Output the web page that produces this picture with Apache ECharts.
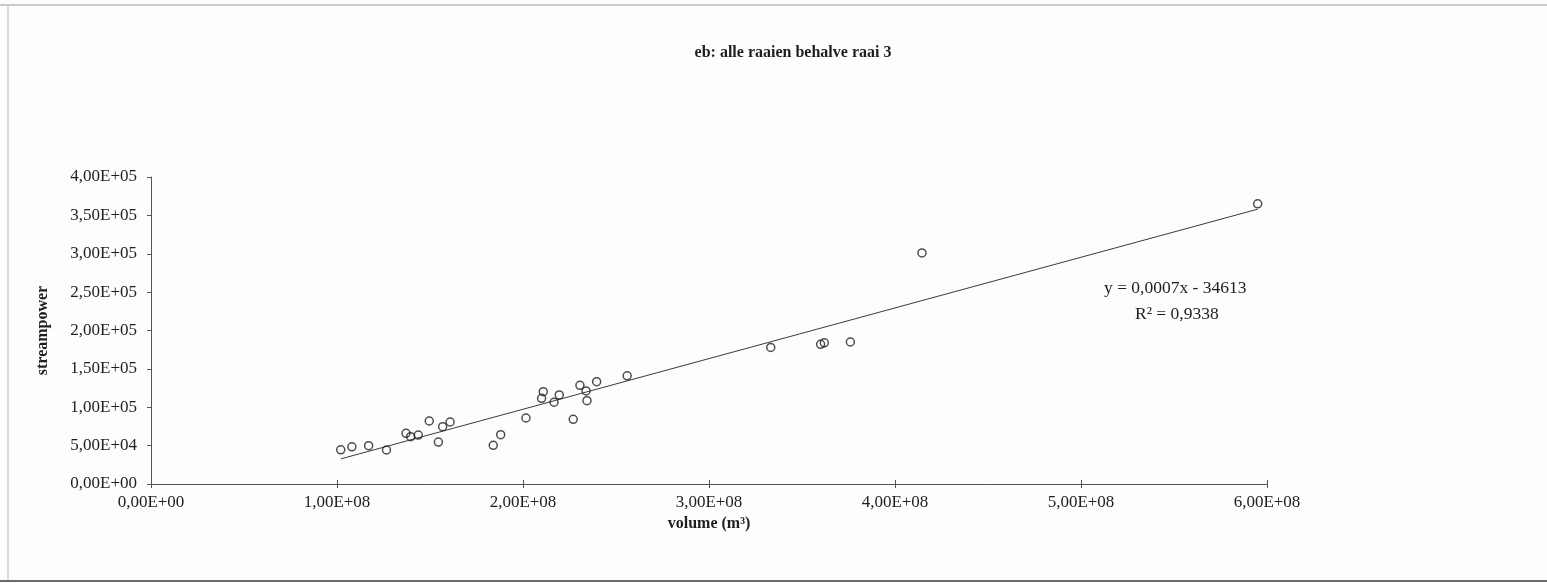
<!DOCTYPE html>
<html>
<head>
<meta charset="utf-8">
<script src="https://cdn.jsdelivr.net/npm/echarts@6/dist/echarts.min.js"></script>
<style>
  html, body { margin: 0; padding: 0; background: #fdfdfd; }
  #chart { width: 1547px; height: 583px; }
</style>
</head>
<body>
<div id="chart"></div>
<script>
// Ebb measurements: volume (m³) against stream power, all transects except transect 3
const volume = [
  1.02e8, 1.08e8, 1.17e8, 1.266e8, 1.371e8, 1.396e8, 1.437e8, 1.496e8, 1.545e8, 1.568e8,
  1.608e8, 1.840e8, 1.880e8, 2.016e8, 2.100e8, 2.109e8, 2.167e8, 2.195e8, 2.270e8, 2.306e8,
  2.339e8, 2.344e8, 2.396e8, 2.560e8, 3.332e8, 3.600e8, 3.620e8, 3.760e8, 4.145e8, 5.950e8
];
const streampower = [
  44500, 48500, 50000, 44300, 66100, 61600, 63800, 82100, 54700, 74700,
  80800, 50400, 64200, 86000, 111700, 120300, 106500, 116000, 84300, 128600,
  121200, 108500, 133300, 141000, 178000, 182000, 184000, 185000, 301000, 365000
];

// Linear trendline y = slope * x + intercept, and its coefficient of determination
const trendSlope = 0.00066;
const trendIntercept = -34613;
const rSquared = 0.9338;

// Axis ranges and tick steps
const xTicks = { min: 0, max: 6e8, step: 1e8 };
const yTicks = { min: 0, max: 4e5, step: 5e4 };

const titleText = 'eb: alle raaien behalve raai 3';
const xTitle = 'volume (m³)';
const yTitle = 'streampower';

// "4,00E+05" style: two decimals, comma separator, signed two-digit exponent
function sci(v) {
  const [mant, exp] = v.toExponential(2).split('e');
  const e = parseInt(exp, 10);
  const sign = e < 0 ? '-' : '+';
  const ee = String(Math.abs(e)).padStart(2, '0');
  return mant.replace('.', ',') + 'E' + sign + ee;
}

const points = volume.map((x, i) => [x, streampower[i]]);
const xLo = Math.min(...volume);
const xHi = Math.max(...volume);
const trendLine = [xLo, xHi].map(x => [x, trendSlope * x + trendIntercept]);

const eqText = 'y = ' + trendSlope.toFixed(4).replace('.', ',') + 'x - ' + Math.abs(trendIntercept);
const r2Text = 'R² = ' + rSquared.toFixed(4).replace('.', ',');

const serif = '"Liberation Serif", "Times New Roman", serif';
const ink = '#1e1e1e';

const chart = echarts.init(document.getElementById('chart'), null, { renderer: 'canvas' });

chart.setOption({
  backgroundColor: '#fdfdfd',
  animation: false,
  title: {
    text: titleText,
    left: 788,
    top: 40,
    textAlign: 'center',
    textStyle: { fontFamily: serif, fontSize: 16, fontWeight: 'bold', color: ink }
  },
  grid: { left: 151, right: 280, top: 177, bottom: 99, containLabel: false },
  xAxis: [
    {
      type: 'value',
      min: xTicks.min, max: xTicks.max, interval: xTicks.step,
      name: xTitle,
      nameLocation: 'middle',
      nameGap: 32,
      nameTextStyle: { fontFamily: serif, fontSize: 16, fontWeight: 'bold', color: ink },
      axisLine: { show: true, onZero: false, lineStyle: { color: '#555', width: 1 } },
      axisTick: { show: true, inside: false, length: 4, lineStyle: { color: '#555' } },
      axisLabel: { formatter: sci, margin: 10, fontFamily: serif, fontSize: 17, color: ink },
      splitLine: { show: false }
    },
    {
      type: 'value',
      position: 'bottom',
      min: xTicks.min, max: xTicks.max, interval: xTicks.step,
      axisLine: { show: false },
      axisTick: { show: true, inside: true, length: 4, lineStyle: { color: '#555' } },
      axisLabel: { show: false },
      splitLine: { show: false }
    }
  ],
  yAxis: {
    type: 'value',
    min: yTicks.min, max: yTicks.max, interval: yTicks.step,
    name: yTitle,
    nameLocation: 'middle',
    nameGap: 100,
    nameRotate: 90,
    nameTextStyle: { fontFamily: serif, fontSize: 16, fontWeight: 'bold', color: ink },
    axisLine: { show: true, onZero: false, lineStyle: { color: '#555', width: 1 } },
    axisTick: { show: true, inside: false, length: 4, lineStyle: { color: '#555' } },
    axisLabel: { formatter: sci, margin: 14, fontFamily: serif, fontSize: 17, color: ink },
    splitLine: { show: false }
  },
  series: [
    {
      name: 'trend',
      type: 'line',
      data: trendLine,
      showSymbol: false,
      silent: true,
      lineStyle: { color: '#3a3a3a', width: 1 },
      z: 2
    },
    {
      name: 'streampower',
      type: 'scatter',
      data: points,
      symbol: 'circle',
      symbolSize: 8,
      itemStyle: { color: 'rgba(0,0,0,0)', borderColor: '#222', borderWidth: 1.5 },
      z: 3
    }
  ],
  graphic: [
    // page frame
    { type: 'line', shape: { x1: 0, y1: 5, x2: 1547, y2: 5 }, style: { stroke: '#9a9a9a', lineWidth: 1 }, silent: true },
    { type: 'line', shape: { x1: 8, y1: 5, x2: 8, y2: 581 }, style: { stroke: '#b5b5b5', lineWidth: 1 }, silent: true },
    { type: 'line', shape: { x1: 0, y1: 581, x2: 1547, y2: 581 }, style: { stroke: '#6a6a6a', lineWidth: 2 }, silent: true },
    // trendline equation and R²
    {
      type: 'text', left: 1104, top: 279,
      style: { text: eqText, font: '17.5px ' + serif, fill: ink, textAlign: 'left' }, silent: true
    },
    {
      type: 'text', left: 1135, top: 305,
      style: { text: r2Text, font: '17.5px ' + serif, fill: ink, textAlign: 'left' }, silent: true
    }
  ]
});
</script>
</body>
</html>
